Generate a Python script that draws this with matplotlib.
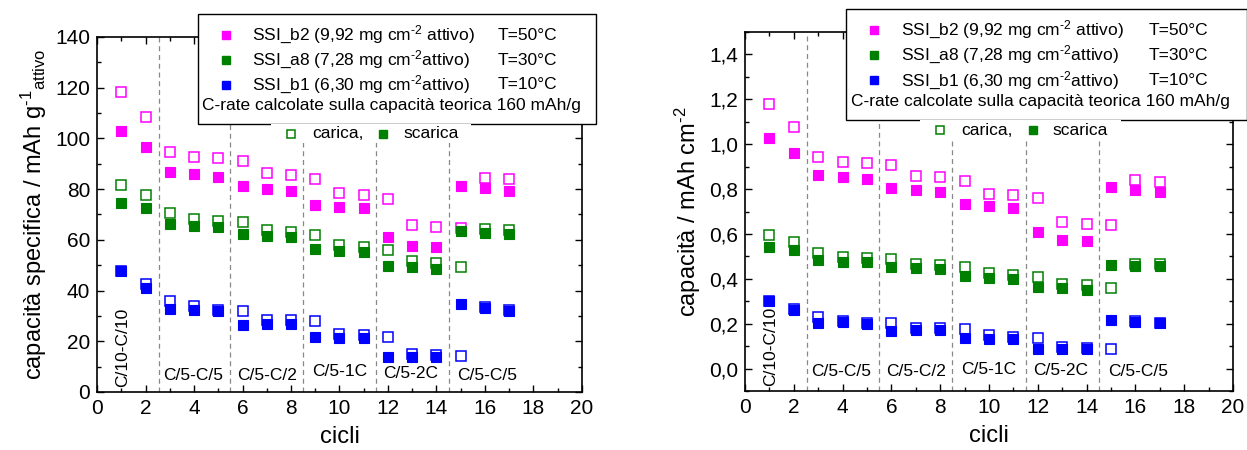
import matplotlib
matplotlib.use("Agg")
import matplotlib.pyplot as plt
from matplotlib.patches import Rectangle
from matplotlib.ticker import MultipleLocator, FuncFormatter

plt.rcParams['font.family'] = ['Liberation Sans', 'DejaVu Sans']
plt.rcParams['mathtext.fontset'] = 'custom'
plt.rcParams['mathtext.rm'] = 'Liberation Sans'
plt.rcParams['mathtext.it'] = 'Liberation Sans:italic'

# dati
cicli = [1, 2, 3, 4, 5, 6, 7, 8, 9, 10, 11, 12, 13, 14, 15, 16, 17]

# capacita' specifica (mAh/g)
b2_car = [118.5, 108.5, 94.8, 92.7, 92.1, 91.2, 86.5, 85.7, 84.0, 78.5, 77.8, 76.3, 66.0, 64.9, 64.5, 84.4, 83.9]
b2_sca = [103.0, 96.7, 86.9, 85.8, 84.9, 81.1, 79.9, 79.3, 73.7, 72.8, 72.4, 61.1, 57.6, 57.0, 81.4, 80.3, 79.3]
a8_car = [81.6, 77.7, 70.5, 68.1, 67.4, 66.9, 63.9, 63.2, 61.9, 58.0, 57.3, 56.1, 51.7, 50.7, 49.2, 64.1, 63.9]
a8_sca = [74.4, 72.4, 66.4, 65.5, 65.2, 62.2, 61.4, 61.0, 56.4, 55.6, 55.1, 49.7, 49.4, 48.4, 63.6, 62.8, 62.4]
b1_car = [47.7, 42.5, 35.9, 33.9, 32.3, 32.1, 28.4, 28.4, 28.1, 22.9, 22.4, 21.6, 15.1, 14.4, 14.0, 33.5, 32.5]
b1_sca = [47.7, 41.1, 32.6, 32.5, 31.8, 26.4, 26.8, 26.8, 21.6, 21.2, 21.2, 13.8, 13.7, 13.8, 34.6, 33.1, 32.1]

# capacita' areale (mAh/cm2)
b2_car_a = [1.178, 1.076, 0.944, 0.921, 0.915, 0.906, 0.860, 0.852, 0.836, 0.780, 0.772, 0.759, 0.655, 0.646, 0.639, 0.839, 0.833]
b2_sca_a = [1.027, 0.961, 0.863, 0.852, 0.844, 0.805, 0.794, 0.787, 0.734, 0.723, 0.717, 0.609, 0.572, 0.567, 0.809, 0.797, 0.787]
a8_car_a = [0.595, 0.566, 0.517, 0.496, 0.492, 0.487, 0.467, 0.463, 0.453, 0.426, 0.419, 0.410, 0.378, 0.373, 0.359, 0.465, 0.465]
a8_sca_a = [0.542, 0.529, 0.484, 0.477, 0.475, 0.453, 0.447, 0.444, 0.411, 0.404, 0.401, 0.362, 0.359, 0.352, 0.463, 0.459, 0.456]
b1_car_a = [0.300, 0.265, 0.231, 0.214, 0.203, 0.203, 0.182, 0.182, 0.178, 0.148, 0.141, 0.136, 0.095, 0.091, 0.089, 0.211, 0.205]
b1_sca_a = [0.301, 0.261, 0.205, 0.208, 0.200, 0.166, 0.171, 0.171, 0.135, 0.133, 0.133, 0.087, 0.087, 0.087, 0.217, 0.208, 0.202]

colori = ['#FF00FF', '#008000', '#0000FF']
campioni = ['SSI_b2 (9,92 mg cm$^{\\text{-}2}$ attivo)',
            'SSI_a8 (7,28 mg cm$^{\\text{-}2}$attivo)',
            'SSI_b1 (6,30 mg cm$^{\\text{-}2}$attivo)']
temperature = ['T=50°C', 'T=30°C', 'T=10°C']
separatori = [2.55, 5.5, 8.5, 11.5, 14.5]
regimi = ['C/5-C/5', 'C/5-C/2', 'C/5-1C', 'C/5-2C', 'C/5-C/5']
regimi_x = [3.95, 7.0, 10.0, 12.95, 16.1]


def disegna(ax, car, sca, ylim, ymin_tick, label_y, regimi_y, primo_y):
    for sep in separatori:
        ax.axvline(sep, color='#888888', lw=0.9, ls=(0, (4, 3)), zorder=1)
    for c, s, col in zip(car, sca, colori):
        ax.plot(cicli, c, 's', ms=6.5, mfc='white', mec=col, mew=1.1, ls='none', zorder=3)
        ax.plot(cicli, s, 's', ms=6.5, mfc=col, mec=col, mew=0.8, ls='none', zorder=3)
    ax.set_xlim(0, 20)
    ax.set_ylim(*ylim)
    ax.xaxis.set_major_locator(MultipleLocator(2))
    ax.xaxis.set_minor_locator(MultipleLocator(1))
    ax.yaxis.set_major_locator(MultipleLocator(ymin_tick * 2))
    ax.yaxis.set_minor_locator(MultipleLocator(ymin_tick))
    ax.tick_params(which='both', direction='in', top=True, right=True, labelsize=15, width=1, pad=5)
    ax.tick_params(which='major', length=5)
    ax.tick_params(which='minor', length=3)
    for sp in ax.spines.values():
        sp.set_linewidth(1.2)
    ax.set_xlabel('cicli', fontsize=17, labelpad=6)
    ax.set_ylabel(label_y, fontsize=17)
    ax.text(1.05, primo_y, 'C/10-C/10', rotation=90, ha='center', va='bottom', fontsize=12.5, zorder=4)
    for x, r, dy in zip(regimi_x, regimi, [0, 0, 1, 0.4, 0]):
        ax.text(x, regimi_y[0] + dy * regimi_y[1], r, ha='center', va='center', fontsize=12.5, zorder=4)

    # legenda principale
    tr = ax.transAxes
    ax.add_patch(Rectangle((0.208, 0.755), 0.82, 0.31, transform=tr, fc='white', ec='black',
                           lw=1.0, clip_on=False, zorder=5))
    righe = [1.005, 0.935, 0.865]
    for yy, col, nome, t in zip(righe, colori, campioni, temperature):
        ax.plot([0.265], [yy], 's', ms=6, color=col, transform=tr, clip_on=False, zorder=6)
        ax.text(0.32, yy, nome, transform=tr, fontsize=12.5, va='center', zorder=6)
        ax.text(0.827, yy, t, transform=tr, fontsize=12.5, va='center', zorder=6)
    ax.text(0.217, 0.806, 'C-rate calcolate sulla capacità teorica 160 mAh/g', transform=tr,
            fontsize=12.5, va='center', zorder=6)
    # legenda carica / scarica
    ax.add_patch(Rectangle((0.358, 0.70), 0.413, 0.055, transform=tr, fc='white', ec='none',
                           clip_on=False, zorder=5))
    ax.plot([0.40], [0.727], 's', ms=6, mfc='white', mec=colori[1], mew=1.1, transform=tr, zorder=6)
    ax.text(0.443, 0.727, 'carica,', transform=tr, fontsize=12.5, va='center', zorder=6)
    ax.plot([0.59], [0.727], 's', ms=6, color=colori[1], transform=tr, zorder=6)
    ax.text(0.631, 0.727, 'scarica', transform=tr, fontsize=12.5, va='center', zorder=6)


fig = plt.figure(figsize=(12.47, 4.5), dpi=100)
ax1 = fig.add_axes([0.0778, 0.1289, 0.3889, 0.7889])
ax2 = fig.add_axes([0.5974, 0.1311, 0.3913, 0.7978])

disegna(ax1, [b2_car, a8_car, b1_car], [b2_sca, a8_sca, b1_sca], (0, 140), 10,
        'capacità specifica / mAh g$^{\\text{-}1}$$_{\\mathrm{attivo}}$', (6.7, 1.3), 2)
disegna(ax2, [b2_car_a, a8_car_a, b1_car_a], [b2_sca_a, a8_sca_a, b1_sca_a], (-0.1, 1.5), 0.1,
        'capacità / mAh cm$^{\\text{-}2}$', (-0.014, 0.012), -0.078)
ax2.yaxis.set_major_formatter(FuncFormatter(lambda v, p: ('%.1f' % v).replace('.', ',')))

fig.savefig('out.png', dpi=100)
